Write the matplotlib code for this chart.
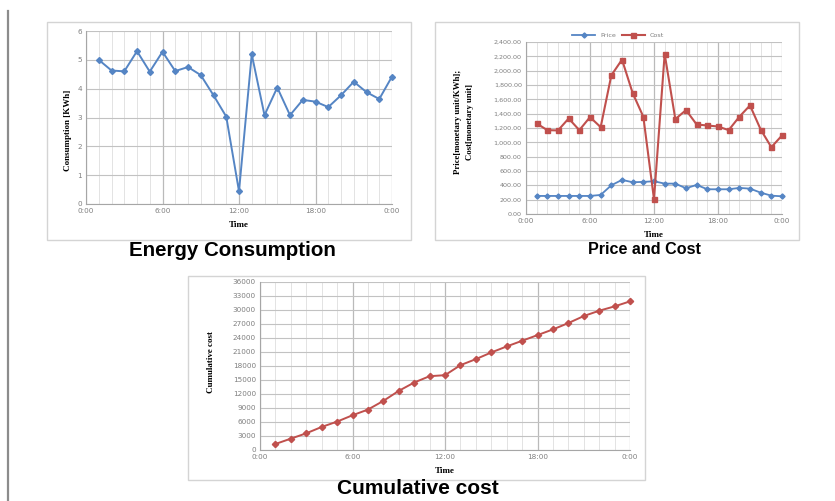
"""Three Excel-style panels: energy consumption, price/cost, cumulative cost."""
import matplotlib
matplotlib.use('Agg')
import matplotlib.pyplot as plt
from matplotlib.patches import Rectangle
from matplotlib.lines import Line2D

W, H = 835, 501

hours = [1, 2, 3, 4, 5, 6, 7, 8, 9, 10, 11, 12,
         13, 14, 15, 16, 17, 18, 19, 20, 21, 22, 23, 24]
consumption = [5.00, 4.63, 4.60, 5.30, 4.59, 5.28, 4.61, 4.75, 4.47, 3.77, 3.03, 0.44,
               5.19, 3.08, 4.04, 3.08, 3.61, 3.55, 3.36, 3.77, 4.24, 3.88, 3.64, 4.42]
price = [252, 252, 252, 252, 252, 252, 266, 401, 476, 443, 448, 457,
         424, 424, 359, 406, 345, 345, 345, 364, 354, 298, 256, 247]
cost = [1263, 1170, 1166, 1333, 1170, 1352, 1212, 1935, 2154, 1688, 1357, 205,
        2233, 1324, 1450, 1249, 1235, 1221, 1170, 1357, 1515, 1179, 932, 1096]
cumulative = [1288, 2433, 3579, 4938, 6083, 7443, 8660, 10521, 12668, 14457, 15817, 16032,
              18179, 19467, 20899, 22187, 23404, 24620, 25837, 27197, 28700, 29845, 30776, 31849]
time_ticks = [0, 6, 12, 18, 24]
time_labels = ['0:00', '6:00', '12:00', '18:00', '0:00']

BLUE = '#5585C4'
RED = '#C0504D'
TICK_C = '#7f7f7f'
SERIF = ['Liberation Serif', 'DejaVu Serif']
SANS = ['Liberation Sans', 'DejaVu Sans']


def box(l, t, r, b):
    return [l / W, 1 - b / H, (r - l) / W, (b - t) / H]


def pt(x, y):
    return x / W, 1 - y / H


def panel_border(fig, l, t, r, b):
    fig.patches.append(Rectangle(pt(l, b), (r - l) / W, (b - t) / H,
                                 transform=fig.transFigure, fill=False,
                                 edgecolor='#d4d4d4', lw=1.0))


def style_axes(ax, ymax, ystep):
    ax.set_xlim(0, 24)
    ax.set_ylim(0, ymax)
    ax.set_xticks(time_ticks)
    ax.set_xticklabels(time_labels)
    ax.set_xticks(range(25), minor=True)
    ax.set_yticks([i * ystep for i in range(int(round(ymax / ystep)) + 1)])
    ax.grid(True, which='minor', axis='x', color='#e3e3e3', lw=0.7)
    ax.grid(True, which='major', axis='x', color='#bababa', lw=0.9)
    ax.grid(True, which='major', axis='y', color='#c2c2c2', lw=0.8)
    ax.set_axisbelow(True)
    for s in ('top', 'right'):
        ax.spines[s].set_visible(False)
    for s in ('left', 'bottom'):
        ax.spines[s].set_color('#a6a6a6')
        ax.spines[s].set_linewidth(0.8)
    ax.tick_params(which='both', length=0, labelsize=5.2, colors=TICK_C, pad=3)


fig = plt.figure(figsize=(W / 100, H / 100), dpi=100)
fig.patch.set_facecolor('white')

# left margin rule
fig.add_artist(Line2D([8 / W, 8 / W], [0, 1 - 11 / H], transform=fig.transFigure,
                      color='#8c8c8c', lw=1.6))

# --- Energy consumption ---
panel_border(fig, 47, 22, 411, 240)
ax1 = fig.add_axes(box(86, 31, 392, 204))
ax1.plot(hours, consumption, color=BLUE, lw=1.4, marker='D', ms=3.0, mfc=BLUE, mec=BLUE,
         clip_on=False)
style_axes(ax1, 6, 1)
ax1.set_xlabel('Time', fontsize=6.5, fontweight='bold', family=SERIF, labelpad=5)
fig.text(*pt(68, 130), 'Consumption [KWh]', rotation=90, ha='center', va='center',
         fontsize=6.5, fontweight='bold', family=SERIF)
fig.text(*pt(232, 250), 'Energy Consumption', ha='center', va='center',
         fontsize=14.8, fontweight='bold', family=SANS)

# --- Price and cost ---
panel_border(fig, 435, 22, 799, 240)
ax2 = fig.add_axes(box(526, 42, 782, 214))
ax2.plot(hours, price, color=BLUE, lw=1.3, marker='D', ms=2.6, mfc=BLUE, mec=BLUE,
         label='Price', clip_on=False)
ax2.plot(hours, cost, color=RED, lw=1.5, marker='s', ms=3.6, mfc=RED, mec=RED,
         label='Cost', clip_on=False)
style_axes(ax2, 2400, 200)
ax2.set_yticklabels([f'{v:,.2f}' for v in ax2.get_yticks()])
ax2.tick_params(axis='y', labelsize=4.6)
ax2.set_xlabel('Time', fontsize=6.5, fontweight='bold', family=SERIF, labelpad=5)
ax2.legend(loc='lower center', bbox_to_anchor=(0.36, 1.0), ncol=2, frameon=False,
           fontsize=4.6, handlelength=3.5, columnspacing=1.0, borderaxespad=0.2,
           labelcolor=TICK_C)
fig.text(*pt(464, 122), 'Price[monetary unit/KWh];\nCost[monetary unit]', rotation=90,
         ha='center', va='center', fontsize=6.3, fontweight='bold', family=SERIF,
         linespacing=1.6, multialignment='center')
fig.text(*pt(645, 250), 'Price and Cost', ha='center', va='center',
         fontsize=11.6, fontweight='bold', family=SANS)

# --- Cumulative cost ---
panel_border(fig, 188, 276, 645, 480)
ax3 = fig.add_axes(box(260, 282, 630, 450))
ax3.plot(hours, cumulative, color=RED, lw=1.4, marker='D', ms=3.2, mfc=RED, mec=RED,
         clip_on=False)
style_axes(ax3, 36000, 3000)
ax3.set_xlabel('Time', fontsize=6.5, fontweight='bold', family=SERIF, labelpad=5)
fig.text(*pt(211, 362), 'Cumulative cost', rotation=90, ha='center', va='center',
         fontsize=6.5, fontweight='bold', family=SERIF)
fig.text(*pt(418, 489), 'Cumulative cost', ha='center', va='center',
         fontsize=15, fontweight='bold', family=SANS)

fig.savefig('out.png', dpi=100)
